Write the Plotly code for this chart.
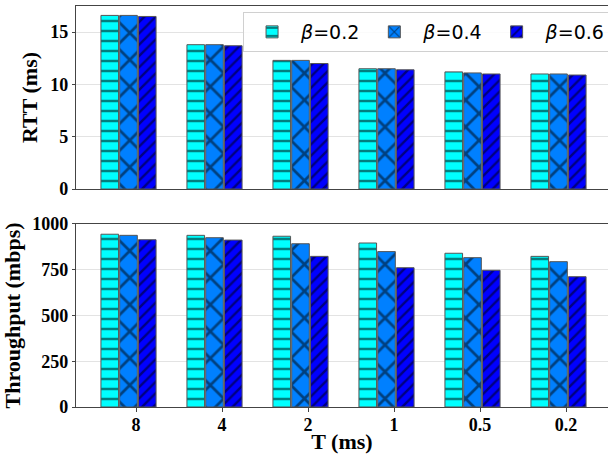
import plotly.graph_objects as go

categories = ["8", "4", "2", "1", "0.5", "0.2"]
series_names = ["<i>β</i>=0.2", "<i>β</i>=0.4", "<i>β</i>=0.6"]
rtt_b02 = [16.6, 13.8, 12.3, 11.5, 11.2, 11.0]
rtt_b04 = [16.6, 13.8, 12.3, 11.5, 11.1, 11.0]
rtt_b06 = [16.5, 13.7, 12.0, 11.4, 11.0, 10.9]
thr_b02 = [944, 938, 933, 896, 840, 823]
thr_b04 = [938, 925, 892, 849, 816, 794]
thr_b06 = [914, 912, 823, 761, 747, 712]

colors = ["#00ffff", "#0080ff", "#0000ff"]
shapes = ["-", "x", "/"]
psizes = [10, 19, 8]
psolid = [0.25, 0.27, 0.3]
offsets = [-0.408, -0.19, 0.028]
bw = 0.205

fig = go.Figure()
rtt = [rtt_b02, rtt_b04, rtt_b06]
thr = [thr_b02, thr_b04, thr_b06]
for i in range(3):
    for vals, xa, ya, show in [(rtt[i], "x", "y", True), (thr[i], "x2", "y2", False)]:
        fig.add_trace(go.Bar(
            x=categories, y=vals, xaxis=xa, yaxis=ya,
            name=series_names[i], showlegend=show, legendgroup=str(i),
            offset=offsets[i], width=bw,
            marker=dict(color=colors[i], line=dict(color="#555555", width=1),
                        pattern=dict(shape=shapes[i], fgcolor="black",
                                     size=psizes[i], solidity=psolid[i])),
        ))

tickfont = dict(family="Liberation Serif", size=18, color="black", weight="bold")
titlefont = dict(family="Liberation Serif", size=22, color="black", weight="bold")
xr = [-0.698, 5.488]
ax_common = dict(showline=True, linecolor="#444444", linewidth=1.2, mirror=True,
                 automargin=False)

fig.update_layout(
    width=608, height=454,
    margin=dict(l=76, r=0, t=6, b=47, autoexpand=False),
    plot_bgcolor="white", paper_bgcolor="white",
    barmode="overlay",
    xaxis=dict(domain=[0, 1], anchor="y", range=xr, showticklabels=False,
               showgrid=False, ticks="", **ax_common),
    yaxis=dict(domain=[0.5436, 1.0], anchor="x", range=[0, 17.5],
               tickvals=[0, 5, 10, 15], tickfont=tickfont,
               title=dict(text="RTT (ms)", font=titlefont, standoff=6),
               showgrid=True, gridcolor="#e3e3e3", gridwidth=1,
               ticks="outside", ticklen=3, tickcolor="#444", zeroline=False, **ax_common),
    xaxis2=dict(domain=[0, 1], anchor="y2", range=xr, tickfont=tickfont,
                title=dict(text="T (ms)", font=titlefont, standoff=0),
                ticklabelstandoff=-3,
                showgrid=False, ticks="outside", ticklen=4, tickcolor="#444", **ax_common),
    yaxis2=dict(domain=[0, 0.4564], anchor="x2", range=[0, 1000],
                tickvals=[0, 250, 500, 750, 1000], tickfont=tickfont,
                title=dict(text="Throughput (mbps)", font=titlefont, standoff=6),
                showgrid=True, gridcolor="#e3e3e3", gridwidth=1,
                ticks="outside", ticklen=3, tickcolor="#444", zeroline=False, **ax_common),
    legend=dict(orientation="h", x=0.314, y=0.985, xanchor="left", yanchor="top",
                font=dict(family="DejaVu Sans", size=19, color="black"),
                bgcolor="rgba(255,255,255,0.85)", bordercolor="#d0d0d0", borderwidth=1,
                itemwidth=48),
)

fig.write_html("out.html", config={"displayModeBar": False},
               post_script="document.body.style.margin='0px';")
